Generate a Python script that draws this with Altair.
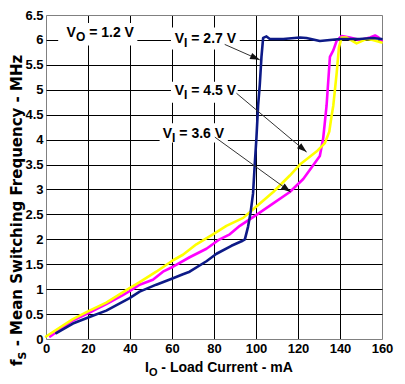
import math
import altair as alt
import pandas as pd

# ---------------- data ----------------
x_v27 = [4.9, 12.8, 20.7, 28.7, 39.8, 44.6, 52.5, 60.5, 65.2, 68.4, 76.4, 81.2, 88.3, 93.1, 94.7,
         96.2, 97.4, 98.6, 99.4, 100.2, 101.0, 101.8, 102.6, 103.4, 105.0, 106.6, 113.0, 120.9,
         124.0, 130.4, 135.2, 140.0, 149.3, 155.6, 159.8]
y_v27 = [0.12, 0.31, 0.44, 0.57, 0.82, 0.95, 1.09, 1.22, 1.30, 1.35, 1.56, 1.71, 1.87, 1.96, 2.0,
         2.25, 2.53, 2.92, 3.5, 4.03, 4.68, 5.1, 5.66, 6.04, 6.07, 6.02, 6.02, 6.05,
         6.04, 5.98, 6.0, 6.02, 6.02, 6.04, 6.02]

x_v36 = [2.0, 12.8, 20.7, 28.7, 36.6, 39.8, 44.6, 50.9, 55.7, 60.5, 68.4, 76.4, 82.7, 87.5, 92.3,
         100.2, 108.2, 116.1, 122.5, 130.4, 132.0, 132.8, 133.6, 135.2, 136.8, 138.4, 140.8,
         144.7, 149.5, 154.3, 156.7, 158.3, 159.8]
y_v36 = [0.05, 0.37, 0.53, 0.70, 0.88, 0.96, 1.09, 1.19, 1.35, 1.45, 1.64, 1.81, 2.0, 2.1, 2.27,
         2.49, 2.72, 2.95, 3.21, 3.67, 4.03, 4.35, 4.68, 5.66, 5.79, 5.98, 6.08,
         6.05, 6.0, 6.05, 6.09, 6.05, 5.98]

x_v45 = [0.0, 12.8, 20.7, 28.7, 39.8, 44.6, 52.5, 60.5, 65.2, 71.6, 79.5, 85.9, 93.9, 100.2,
         108.2, 116.1, 120.9, 128.8, 132.8, 134.9, 136.0, 136.8, 138.4, 139.5, 140.8, 143.0,
         147.9, 152.7, 155.6, 159.8]
y_v45 = [0.05, 0.40, 0.57, 0.73, 1.02, 1.14, 1.35, 1.58, 1.69, 1.90, 2.10, 2.27, 2.43, 2.66,
         2.95, 3.28, 3.5, 3.76, 3.93, 4.16, 4.48, 4.68, 5.33, 5.85, 6.05, 6.05,
         5.93, 6.02, 6.0, 5.95]

x_ticks = [0, 20, 40, 60, 80, 100, 120, 140, 160]
y_ticks = [0, 0.5, 1, 1.5, 2, 2.5, 3, 3.5, 4, 4.5, 5, 5.5, 6, 6.5]

# annotations: "V" + subscript + rest
label_sub = ["O", "I", "I", "I"]
label_rest = ["= 1.2 V", "= 2.7 V", "= 4.5 V", "= 3.6 V"]
label_x = [9.8, 61.3, 61.3, 55.6]
label_y = [6.05, 5.93, 4.89, 4.03]
box_x1 = [5.8, 59.5, 59.5, 54.1]
box_x2 = [43.5, 92.3, 91.3, 86.6]
box_y1 = [5.89, 5.81, 4.74, 3.94]
box_y2 = [6.34, 6.25, 5.16, 4.33]

arrow_x1 = [85.1, 90.7, 80.4]
arrow_y1 = [5.91, 4.93, 4.05]
arrow_x2 = [101.8, 124.1, 116.5]
arrow_y2 = [5.60, 3.75, 2.95]

# ---------------- layout / style ----------------
W, H = 336, 324
XMAX, YMAX = 160, 6.5
PX, PY = W / XMAX, H / YMAX
FONT = "Liberation Sans"

xs = alt.Scale(domain=[0, XMAX], nice=False, zero=False)
ys = alt.Scale(domain=[0, YMAX], nice=False, zero=False)

grid_x = {"condition": {"test": "datum.value === 0 || datum.value === 160", "value": "#808080"},
          "value": "#000000"}
grid_y = {"condition": {"test": "datum.value === 0 || datum.value === 6.5", "value": "#808080"},
          "value": "#000000"}

x_axis = alt.Axis(values=x_ticks, format="d", title=None, ticks=False, domain=False,
                  grid=True, gridColor=grid_x, gridWidth=1, gridOpacity=1,
                  labelFont=FONT, labelFontSize=13, labelFontWeight="bold", labelColor="#000",
                  labelPadding=3, labelOverlap=False, labelFlush=False)
y_axis = alt.Axis(values=y_ticks, format="~g", title=None, ticks=False, domain=False,
                  grid=True, gridColor=grid_y, gridWidth=1, gridOpacity=1,
                  labelFont=FONT, labelFontSize=13, labelFontWeight="bold", labelColor="#000",
                  labelPadding=3, labelOverlap=False, labelFlush=False)


def ex(field):
    return alt.X(field, scale=xs, axis=x_axis)


def ey(field):
    return alt.Y(field, scale=ys, axis=y_axis)


layers = []

# curves (draw order: magenta, yellow, blue)
series = [(x_v36, y_v36, "#ff00ff"), (x_v45, y_v45, "#ffff00"), (x_v27, y_v27, "#0d1a87")]
for sx, sy, col in series:
    df = pd.DataFrame({"x": sx, "y": sy, "i": list(range(len(sx)))})
    layers.append(
        alt.Chart(df).mark_line(color=col, strokeWidth=2.6, strokeJoin="round", strokeCap="round")
        .encode(x=ex("x:Q"), y=ey("y:Q"), order="i:Q")
    )

# white label boxes
boxes = pd.DataFrame({"x1": box_x1, "x2": box_x2, "y1": box_y1, "y2": box_y2})
layers.append(
    alt.Chart(boxes).mark_rect(fill="white", stroke=None)
    .encode(x=ex("x1:Q"), x2="x2:Q", y=ey("y1:Q"), y2="y2:Q")
)

# arrows
arr = pd.DataFrame({"x1": arrow_x1, "y1": arrow_y1, "x2": arrow_x2, "y2": arrow_y2})
arr["ang"] = [
    math.degrees(math.atan2(-(b2 - b1) * PY, (a2 - a1) * PX)) % 360
    for a1, b1, a2, b2 in zip(arrow_x1, arrow_y1, arrow_x2, arrow_y2)
]
layers.append(
    alt.Chart(arr).mark_rule(color="#333333", strokeWidth=1)
    .encode(x=ex("x1:Q"), y=ey("y1:Q"), x2="x2:Q", y2="y2:Q")
)
layers.append(
    alt.Chart(arr).mark_point(shape="M0,0L-1,-0.34L-1,0.34Z", size=380, filled=True,
                              fill="#111111", stroke=None, opacity=1)
    .encode(x=ex("x2:Q"), y=ey("y2:Q"), angle=alt.Angle("ang:Q", scale=None))
)

# annotation texts
V_W = 0.667 * 14
SUB_W = {"O": 0.778 * 12, "I": 0.278 * 12}
SPACE = 0.278 * 14
for lx, ly, sub, rest in zip(label_x, label_y, label_sub, label_rest):
    d = pd.DataFrame({"x": [lx], "y": [ly]})
    base = alt.Chart(d).encode(x=ex("x:Q"), y=ey("y:Q"))
    layers.append(base.mark_text(text="V", font=FONT, fontSize=14, fontWeight="bold",
                                 align="left", baseline="alphabetic", color="#000"))
    layers.append(base.mark_text(text=sub, font=FONT, fontSize=12, fontWeight="bold",
                                 align="left", baseline="alphabetic", color="#000",
                                 dx=V_W, dy=4))
    layers.append(base.mark_text(text=rest, font=FONT, fontSize=14, fontWeight="bold",
                                 align="left", baseline="alphabetic", color="#000",
                                 dx=V_W + SUB_W[sub] + SPACE))

# axis titles drawn as text (for subscripts)
one = pd.DataFrame({"a": [0]})
# x title
XT_X, XT_Y = 99, 357
t = alt.Chart(one).encode(x=alt.value(XT_X), y=alt.value(XT_Y))
layers.append(t.mark_text(text="I", font=FONT, fontSize=14, fontWeight="bold",
                          align="left", baseline="alphabetic", color="#000"))
layers.append(t.mark_text(text="O", font=FONT, fontSize=11, fontWeight="bold",
                          align="left", baseline="alphabetic", color="#000",
                          dx=0.278 * 14, dy=4))
layers.append(t.mark_text(text="- Load Current - mA", font=FONT, fontSize=14, fontWeight="bold",
                          align="left", baseline="alphabetic", color="#000",
                          dx=0.278 * 14 + 0.778 * 11 + 0.278 * 14))
# y title (rotated)
YF = "DejaVu Sans"
YT_X, YT_Y = -24, 351
t = alt.Chart(one).encode(x=alt.value(YT_X), y=alt.value(YT_Y))
layers.append(t.mark_text(text="f", font=YF, fontSize=15, fontWeight="bold", angle=270,
                          align="left", baseline="alphabetic", color="#000"))
layers.append(t.mark_text(text="S", font=YF, fontSize=11, fontWeight="bold", angle=270,
                          align="left", baseline="alphabetic", color="#000",
                          dx=0.435 * 15, dy=4))
layers.append(t.mark_text(text="- Mean Switching Frequency - MHz", font=YF, fontSize=15,
                          fontWeight="bold", angle=270, align="left", baseline="alphabetic",
                          color="#000", dx=0.435 * 15 + 0.72 * 11 + 0.348 * 15))

chart = (
    alt.layer(*layers)
    .properties(width=W, height=H,
                padding={"left": 38, "top": 7, "right": 14, "bottom": 38},
                autosize=alt.AutoSizeParams(type="none"))
    .configure_view(stroke="#808080", strokeWidth=1)
    .configure(background="white")
)

chart.save("out.html", embed_options={"renderer": "svg", "actions": False})
